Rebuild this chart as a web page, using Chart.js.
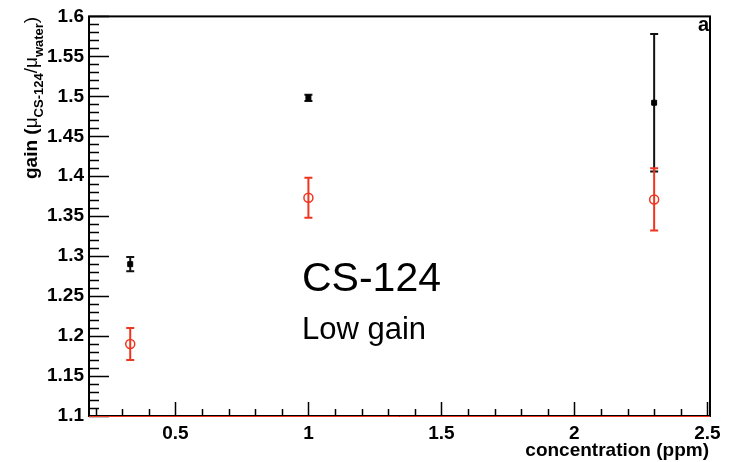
<!DOCTYPE html>
<html>
<head>
<meta charset="utf-8">
<script src="https://cdn.jsdelivr.net/npm/chart.js@4.4.1/dist/chart.umd.min.js"></script>
<style>
  html, body { margin: 0; padding: 0; background: #fff; }
  #gain { display: block; }
</style>
</head>
<body>
<canvas id="gain" width="729" height="462"></canvas>
<script>
// concentration in ppm
const concentration = [0.33, 1.0, 2.3];

// high gain (black squares) and low gain (red open circles)
const highGain = [1.29, 1.498, 1.492];
const highGainErr = [0.009, 0.004, 0.086];
const lowGain = [1.19, 1.373, 1.371];
const lowGainErr = [0.02, 0.025, 0.039];

const xTicks = [0.5, 1, 1.5, 2, 2.5];
const yTicks = [1.1, 1.15, 1.2, 1.25, 1.3, 1.35, 1.4, 1.45, 1.5, 1.55, 1.6];

const FONT = '"Liberation Sans", Arial, sans-serif';
const RED = '#f0351f';

function pts(xs, ys) {
  return xs.map((x, i) => ({ x: x, y: ys[i] }));
}

// vertical error bars with small caps
const errorBars = {
  id: 'errorBars',
  beforeDatasetsDraw(chart) {
    const { ctx, scales: { x, y } } = chart;
    const sets = [
      { ys: highGain, err: highGainErr, color: '#111' },
      { ys: lowGain, err: lowGainErr, color: RED }
    ];
    ctx.save();
    ctx.lineWidth = 2;
    sets.forEach(s => {
      ctx.strokeStyle = s.color;
      concentration.forEach((c, i) => {
        const px = x.getPixelForValue(c);
        const top = y.getPixelForValue(s.ys[i] + s.err[i]);
        const bot = y.getPixelForValue(s.ys[i] - s.err[i]);
        ctx.beginPath();
        ctx.moveTo(px, top); ctx.lineTo(px, bot);
        ctx.moveTo(px - 4, top); ctx.lineTo(px + 4, top);
        ctx.moveTo(px - 4, bot); ctx.lineTo(px + 4, bot);
        ctx.stroke();
      });
    });
    ctx.restore();
  }
};

// frame, inner tick marks and free text
const frame = {
  id: 'frame',
  afterDraw(chart) {
    const { ctx, chartArea: a, scales: { x, y } } = chart;
    ctx.save();
    ctx.strokeStyle = '#000';
    ctx.lineWidth = 1.5;
    ctx.beginPath();
    // y ticks: major every 0.05, minor every 0.01
    for (let k = 0; k <= 50; k++) {
      const py = Math.round(y.getPixelForValue(1.1 + k * 0.01)) + 0.5;
      const len = k % 5 === 0 ? 20 : 10;
      ctx.moveTo(a.left, py); ctx.lineTo(a.left + len, py);
    }
    // x ticks: major every 0.5, minor every 0.1
    for (let k = 2; k <= 25; k++) {
      const px = Math.round(x.getPixelForValue(k * 0.1)) + 0.5;
      const len = k % 5 === 0 ? 14 : 7;
      ctx.moveTo(px, a.bottom); ctx.lineTo(px, a.bottom - len);
    }
    ctx.stroke();

    ctx.lineWidth = 2;
    ctx.strokeRect(a.left, a.top, a.right - a.left, a.bottom - a.top);
    ctx.strokeStyle = RED;
    ctx.lineWidth = 1;
    ctx.beginPath();
    ctx.moveTo(a.left, a.bottom + 0.5); ctx.lineTo(a.right, a.bottom + 0.5);
    ctx.stroke();

    ctx.fillStyle = '#000';
    ctx.textBaseline = 'alphabetic';
    ctx.font = '41px ' + FONT;
    ctx.fillText('CS-124', 302, 291);
    ctx.font = '31px ' + FONT;
    ctx.fillText('Low gain', 302, 339);

    ctx.font = 'bold 20px ' + FONT;
    ctx.textAlign = 'right';
    ctx.fillText('a', 709, 31);
    ctx.font = 'bold 19px ' + FONT;
    ctx.fillText('concentration (ppm)', 709, 456);

    // rotated y title with subscripts
    ctx.translate(37, 179);
    ctx.rotate(-Math.PI / 2);
    ctx.textAlign = 'left';
    const parts = [
      ['gain (', 'bold 19px', 0],
      ['\u03bc', '19px', 0],
      ['CS-124', 'bold 13px', 6],
      ['/', '19px', 0],
      ['\u03bc', '19px', 0],
      ['water', 'bold 13px', 6],
      [')', '19px', 0]
    ];
    let cx = 0;
    parts.forEach(([t, f, dy]) => {
      ctx.font = f + ' ' + FONT;
      ctx.fillText(t, cx, dy);
      cx += ctx.measureText(t).width;
    });
    ctx.restore();
  }
};

new Chart(document.getElementById('gain'), {
  type: 'scatter',
  data: {
    datasets: [
      {
        label: 'high gain',
        data: pts(concentration, highGain),
        pointStyle: 'rect',
        pointRadius: 3.5,
        backgroundColor: '#000',
        borderColor: '#000',
        borderWidth: 1
      },
      {
        label: 'low gain',
        data: pts(concentration, lowGain),
        pointStyle: 'circle',
        pointRadius: 4.5,
        backgroundColor: 'rgba(0,0,0,0)',
        borderColor: RED,
        borderWidth: 1.5
      }
    ]
  },
  options: {
    responsive: false,
    animation: false,
    layout: { padding: { top: 14, right: 19, left: 0, bottom: 0 } },
    plugins: { legend: { display: false }, tooltip: { enabled: false } },
    scales: {
      x: {
        type: 'linear',
        min: 0.175,
        max: 2.51,
        afterBuildTicks: s => { s.ticks = xTicks.map(v => ({ value: v })); },
        afterFit: s => { s.height = 46; },
        grid: { display: false, drawTicks: false },
        border: { display: false },
        ticks: {
          padding: 6,
          color: '#000',
          font: { family: FONT, size: 19, weight: 'bold' },
          maxRotation: 0,
          callback: v => String(v)
        }
      },
      y: {
        type: 'linear',
        min: 1.1,
        max: 1.6,
        afterBuildTicks: s => { s.ticks = yTicks.map(v => ({ value: v })); },
        afterFit: s => { s.width = 89; },
        grid: { display: false, drawTicks: false },
        border: { display: false },
        ticks: {
          padding: 5,
          color: '#000',
          font: { family: FONT, size: 19, weight: 'bold' },
          callback: v => String(Math.round(v * 100) / 100)
        }
      }
    }
  },
  plugins: [errorBars, frame]
});
</script>
</body>
</html>
